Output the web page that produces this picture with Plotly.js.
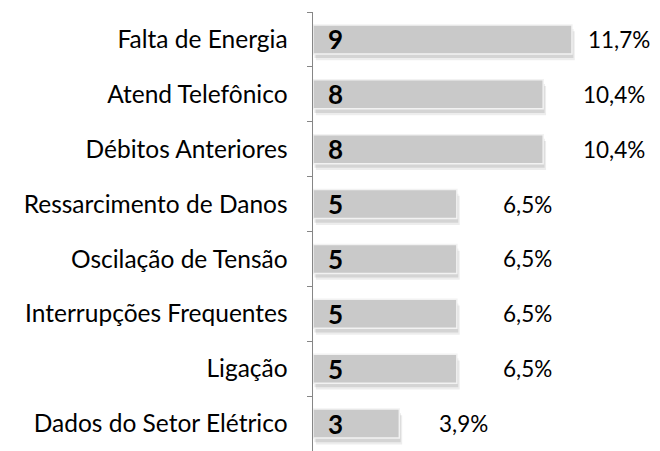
<!DOCTYPE html>
<html><head><meta charset="utf-8">
<script src="https://cdn.plot.ly/plotly-3.0.1.min.js"></script>
<style>html,body{margin:0;padding:0;background:#fff;}#chart{width:660px;height:451px;}</style>
</head><body><div id="chart"></div>
<script>
const categories = ["Falta de Energia","Atend Telefônico","Débitos Anteriores","Ressarcimento de Danos","Oscilação de Tensão","Interrupções Frequentes","Ligação","Dados do Setor Elétrico"];
const counts = [9, 8, 8, 5, 5, 5, 5, 3];
const percentLabels = ["11,7%","10,4%","10,4%","6,5%","6,5%","6,5%","6,5%","3,9%"];

const FONT = "Lato, 'Open Sans', sans-serif";
const shadow1 = {type:'bar', orientation:'h', y:categories, x:counts, base:0.1, width:0.53, offset:-0.15,
  marker:{color:'rgba(0,0,0,0.07)'}, hoverinfo:'skip', showlegend:false};
const shadow2 = {type:'bar', orientation:'h', y:categories, x:counts, base:0.05, width:0.53, offset:-0.19,
  marker:{color:'rgba(0,0,0,0.10)'}, hoverinfo:'skip', showlegend:false};
const main = {type:'bar', orientation:'h', y:categories, x:counts, width:0.53, offset:-0.265,
  marker:{color:'#c9c9c9', line:{color:'#f2f2f2', width:1.5}}, hoverinfo:'skip', showlegend:false};

const annotations = [];
categories.forEach((c,i)=>{
  annotations.push({x:0, y:c, xref:'x', yref:'y', text:'<b>'+counts[i]+'</b>', showarrow:false,
    xanchor:'left', xshift:13, yshift:0, font:{family:FONT, size:26, color:'#000'}});
  annotations.push({x:counts[i], y:c, xref:'x', yref:'y', text:percentLabels[i], showarrow:false,
    xanchor:'left', xshift:i===0?14:(counts[i]===5?44:38), yshift:0, font:{family:FONT, size:22.5, color:'#000'}});
});

const layout = {
  width:660, height:451, margin:{l:313, r:0, t:12, b:0},
  paper_bgcolor:'#fff', plot_bgcolor:'#fff', barmode:'overlay',
  xaxis:{range:[0,12.06], visible:false, showgrid:false, zeroline:false},
  yaxis:{type:'category', autorange:false, range:[7.5,-0.5], showline:true, linecolor:'#868686', linewidth:1.5,
    ticks:'outside', ticklen:5, tickcolor:'#868686', tickson:'boundaries', showgrid:false,
    tickfont:{family:FONT, size:24.5, color:'#000'}, ticklabelstandoff:19},
  annotations:annotations, font:{family:FONT}
};
Plotly.newPlot('chart',[shadow1,shadow2,main],layout,{displayModeBar:false, staticPlot:true});
</script></body></html>
